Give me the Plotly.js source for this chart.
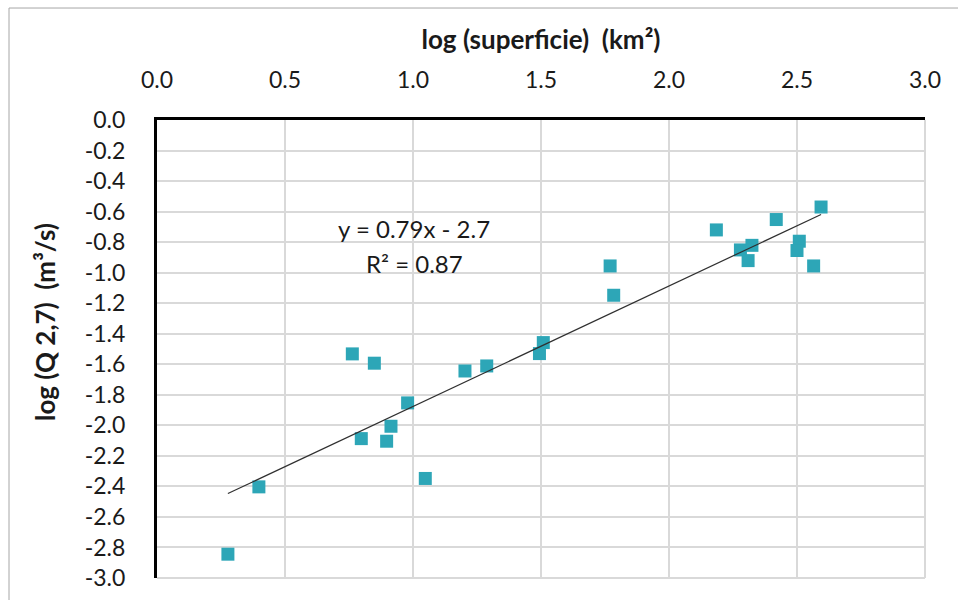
<!DOCTYPE html>
<html>
<head>
<meta charset="utf-8">
<script src="https://cdn.plot.ly/plotly-3.0.1.min.js"></script>
<style>
  html, body { margin: 0; padding: 0; background: #ffffff; }
  #chart { width: 958px; height: 600px; }
</style>
</head>
<body>
<div id="chart"></div>
<script>
// log (superficie) (km²)
const logArea = [0.277, 0.398, 0.763, 0.849, 1.203, 1.288, 1.509, 1.494, 0.979, 0.914, 0.798, 0.897, 1.048,
                 1.770, 1.784, 2.185, 2.279, 2.324, 2.309, 2.419, 2.594, 2.509, 2.500, 2.565];
// log (Q 2,7) (m³/s)
const logQ = [-2.844, -2.403, -1.532, -1.593, -1.644, -1.611, -1.458, -1.530, -1.853, -2.006, -2.087, -2.104, -2.348,
              -0.956, -1.148, -0.720, -0.851, -0.821, -0.921, -0.652, -0.570, -0.794, -0.855, -0.956];
const xTicks = [0, 0.5, 1, 1.5, 2, 2.5, 3];
const xTickText = ['0.0', '0.5', '1.0', '1.5', '2.0', '2.5', '3.0'];
const yTicks = [0, -0.2, -0.4, -0.6, -0.8, -1, -1.2, -1.4, -1.6, -1.8, -2, -2.2, -2.4, -2.6, -2.8, -3];
const yTickText = ['0.0', '-0.2', '-0.4', '-0.6', '-0.8', '-1.0', '-1.2', '-1.4', '-1.6', '-1.8', '-2.0', '-2.2', '-2.4', '-2.6', '-2.8', '-3.0'];
const eqText = 'y = 0.79x - 2.7';
const r2Text = 'R² = 0.87';

// least-squares trend line from the data
const n = logArea.length;
const mx = logArea.reduce((a, b) => a + b, 0) / n;
const my = logQ.reduce((a, b) => a + b, 0) / n;
let sxy = 0, sxx = 0;
for (let i = 0; i < n; i++) { sxy += (logArea[i] - mx) * (logQ[i] - my); sxx += (logArea[i] - mx) ** 2; }
const slope = sxy / sxx;
const intercept = my - slope * mx;
const xMin = Math.min(...logArea), xMax = Math.max(...logArea);
const trendX = [xMin, xMax];
const trendY = trendX.map(v => slope * v + intercept);

const font = 'Lato, "Open Sans", sans-serif';
const textColor = '#1a1a1a';

const traces = [
  {
    x: logArea, y: logQ, type: 'scatter', mode: 'markers',
    marker: { symbol: 'square', size: 13, color: '#2DA6B7', line: { width: 0 } },
    hoverinfo: 'x+y', showlegend: false
  },
  {
    x: trendX, y: trendY, type: 'scatter', mode: 'lines',
    line: { color: '#303030', width: 1.2 },
    hoverinfo: 'skip', showlegend: false
  }
];

const layout = {
  width: 958, height: 600,
  margin: { l: 157, r: 33, t: 120, b: 22 },
  paper_bgcolor: '#ffffff', plot_bgcolor: '#ffffff',
  font: { family: font, size: 23, color: textColor },
  showlegend: false,
  xaxis: {
    side: 'top', range: [0, 3], tickvals: xTicks, ticktext: xTickText,
    tickfont: { family: font, size: 23, color: textColor },
    showgrid: true, gridcolor: '#d9d9d9', gridwidth: 2,
    zeroline: false, showline: true, linecolor: '#000000', linewidth: 3,
    ticks: '', ticklabelstandoff: 20,
    title: { text: 'log (superficie)  (km²)', font: { family: font, size: 26, color: textColor, weight: 'bold' }, standoff: 8 },
    fixedrange: true
  },
  yaxis: {
    range: [-3, 0], tickvals: yTicks, ticktext: yTickText,
    tickfont: { family: font, size: 23, color: textColor },
    showgrid: true, gridcolor: '#d9d9d9', gridwidth: 2,
    zeroline: false, showline: true, linecolor: '#000000', linewidth: 3,
    ticks: '', ticklabelstandoff: 24,
    fixedrange: true
  },
  shapes: [
    { type: 'rect', xref: 'paper', yref: 'paper', x0: -0.1927, x1: 1.2, y0: -0.2, y1: 1.2445,
      line: { color: '#a6a6a6', width: 1 }, fillcolor: 'rgba(0,0,0,0)', layer: 'below' },
    { type: 'line', xref: 'paper', yref: 'paper', x0: 1, x1: 1, y0: 0, y1: 1,
      line: { color: '#d9d9d9', width: 2 }, layer: 'below' },
    { type: 'line', xref: 'paper', yref: 'paper', x0: 0, x1: 1, y0: 0, y1: 0,
      line: { color: '#d9d9d9', width: 2 }, layer: 'below' }
  ],
  annotations: [
    { text: 'log (Q 2,7)  (m³/s)', xref: 'paper', yref: 'paper', x: (45 - 157) / 768, y: 0.559,
      textangle: -90, showarrow: false, font: { family: font, size: 26, color: textColor, weight: 'bold' },
      xanchor: 'center', yanchor: 'middle' },
    { text: eqText, xref: 'x', yref: 'y', x: 1.004, y: -0.709, showarrow: false,
      font: { family: font, size: 24, color: textColor }, xanchor: 'center', yanchor: 'middle' },
    { text: r2Text, xref: 'x', yref: 'y', x: 1.004, y: -0.939, showarrow: false,
      font: { family: font, size: 24, color: textColor }, xanchor: 'center', yanchor: 'middle' }
  ]
};

Plotly.newPlot('chart', traces, layout, { displayModeBar: false, staticPlot: true });
</script>
</body>
</html>
